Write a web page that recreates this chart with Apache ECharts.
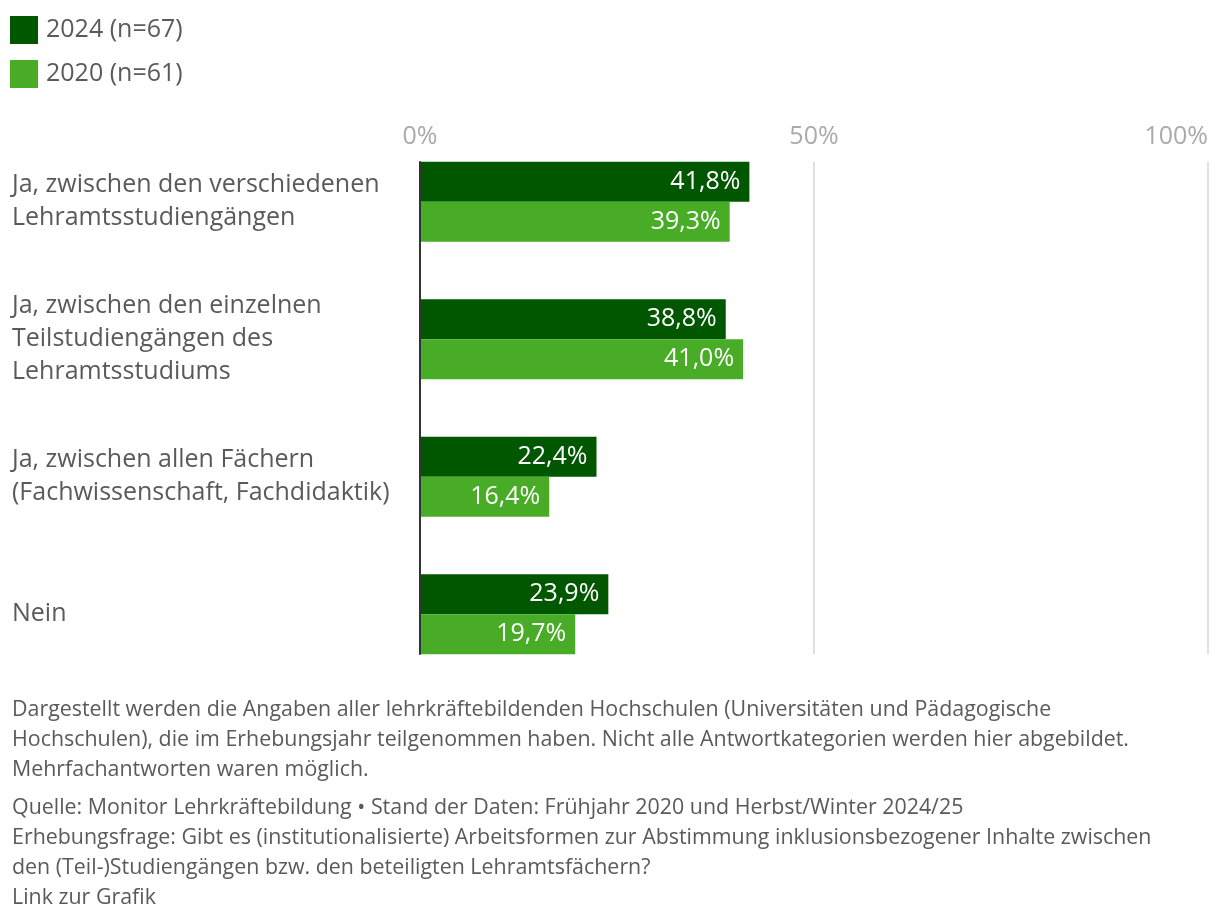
<!DOCTYPE html>
<html>
<head>
<meta charset="utf-8">
<script src="https://cdn.jsdelivr.net/npm/echarts@6/dist/echarts.min.js"></script>
<style>
  html, body { margin: 0; padding: 0; background: #fff; }
  #chart { width: 1220px; height: 924px; }
</style>
</head>
<body>
<div id="chart"></div>
<script>
// categories, top to bottom
var categories = [
    'Ja, zwischen den verschiedenen\nLehramtsstudiengängen',
    'Ja, zwischen den einzelnen\nTeilstudiengängen des\nLehramtsstudiums',
    'Ja, zwischen allen Fächern\n(Fachwissenschaft, Fachdidaktik)',
    'Nein'
];
var values2024 = [41.8, 38.8, 22.4, 23.9];
var values2020 = [39.3, 41.0, 16.4, 19.7];
var seriesNames = ['2024 (n=67)', '2020 (n=61)'];
var tickValues = [0, 50, 100];

var notes = [
    'Dargestellt werden die Angaben aller lehrkräftebildenden Hochschulen (Universitäten und Pädagogische',
    'Hochschulen), die im Erhebungsjahr teilgenommen haben. Nicht alle Antwortkategorien werden hier abgebildet.',
    'Mehrfachantworten waren möglich.'
];
var sources = [
    'Quelle: Monitor Lehrkräftebildung • Stand der Daten: Frühjahr 2020 und Herbst/Winter 2024/25',
    'Erhebungsfrage: Gibt es (institutionalisierte) Arbeitsformen zur Abstimmung inklusionsbezogener Inhalte zwischen',
    'den (Teil-)Studiengängen bzw. den beteiligten Lehramtsfächern?',
    'Link zur Grafik'
];

var FONT = '"Open Sans"';
var TEXT = '#5a5a5a';

var fmt = function (p) {
    return p.value.toFixed(1).replace('.', ',') + '%';
};

var barLabel = {
    show: true,
    position: 'insideRight',
    distance: 9,
    color: '#fff',
    fontFamily: FONT,
    fontSize: 25,
    formatter: fmt
};

var chart = echarts.init(document.getElementById('chart'));
chart.setOption({
    animation: false,
    textStyle: { fontFamily: FONT },
    legend: {
        left: 5,
        top: 11,
        orient: 'vertical',
        itemWidth: 28,
        itemHeight: 28,
        itemGap: 16,
        icon: 'rect',
        selectedMode: false,
        textStyle: { fontFamily: FONT, fontSize: 25, lineHeight: 28, color: TEXT, padding: [0, 0, 0, 3] },
        data: seriesNames
    },
    // grid 0: bars + labels; grid 1: only the gridlines and baseline (shorter than the band area)
    grid: [
        { left: 420, right: 12, top: 133, bottom: 241, outerBoundsMode: 'none' },
        { left: 420, right: 12, top: 162, bottom: 270, outerBoundsMode: 'none' }
    ],
    xAxis: [
        {
            type: 'value',
            gridIndex: 0,
            position: 'top',
            min: 0,
            max: 100,
            interval: 50,
            axisLine: { show: false },
            axisTick: { show: false },
            splitLine: { show: false },
            axisLabel: {
                margin: -16,
                fontSize: 25,
                color: '#aaa',
                fontFamily: FONT,
                alignMaxLabel: 'right',
                formatter: function (v) { return tickValues.indexOf(v) >= 0 ? v + '%' : ''; },
                customValues: tickValues
            }
        },
        {
            type: 'value',
            gridIndex: 1,
            min: 0,
            max: 100,
            interval: 50,
            axisLine: { show: false },
            axisTick: { show: false },
            axisLabel: { show: false },
            splitLine: { lineStyle: { color: '#e0e0e0', width: 2 } }
        }
    ],
    yAxis: [
        {
            type: 'category',
            gridIndex: 0,
            inverse: true,
            data: categories,
            axisLine: { show: false },
            axisTick: { show: false },
            axisLabel: {
                margin: 408,
                align: 'left',
                fontSize: 25,
                lineHeight: 33,
                color: TEXT,
                fontFamily: FONT
            }
        },
        {
            type: 'category',
            gridIndex: 1,
            inverse: true,
            z: 10,
            data: categories,
            axisLine: { show: true, lineStyle: { color: '#333', width: 2 } },
            axisTick: { show: false },
            axisLabel: { show: false }
        }
    ],
    series: [
        {
            name: seriesNames[0],
            type: 'bar',
            data: values2024,
            barWidth: 40,
            barGap: '0%',
            itemStyle: { color: '#005700' },
            label: barLabel
        },
        {
            name: seriesNames[1],
            type: 'bar',
            data: values2020,
            barWidth: 40,
            itemStyle: { color: '#48ac26' },
            label: barLabel
        }
    ],
    graphic: [
        {
            type: 'text',
            left: 12,
            top: 695,
            style: {
                text: notes.join('\n'),
                fontFamily: FONT,
                fontSize: 21.4,
                lineHeight: 30,
                fill: TEXT
            }
        },
        {
            type: 'text',
            left: 12,
            top: 793,
            style: {
                text: sources.join('\n'),
                fontFamily: FONT,
                fontSize: 21.4,
                lineHeight: 30,
                fill: TEXT
            }
        }
    ]
});
</script>
</body>
</html>
